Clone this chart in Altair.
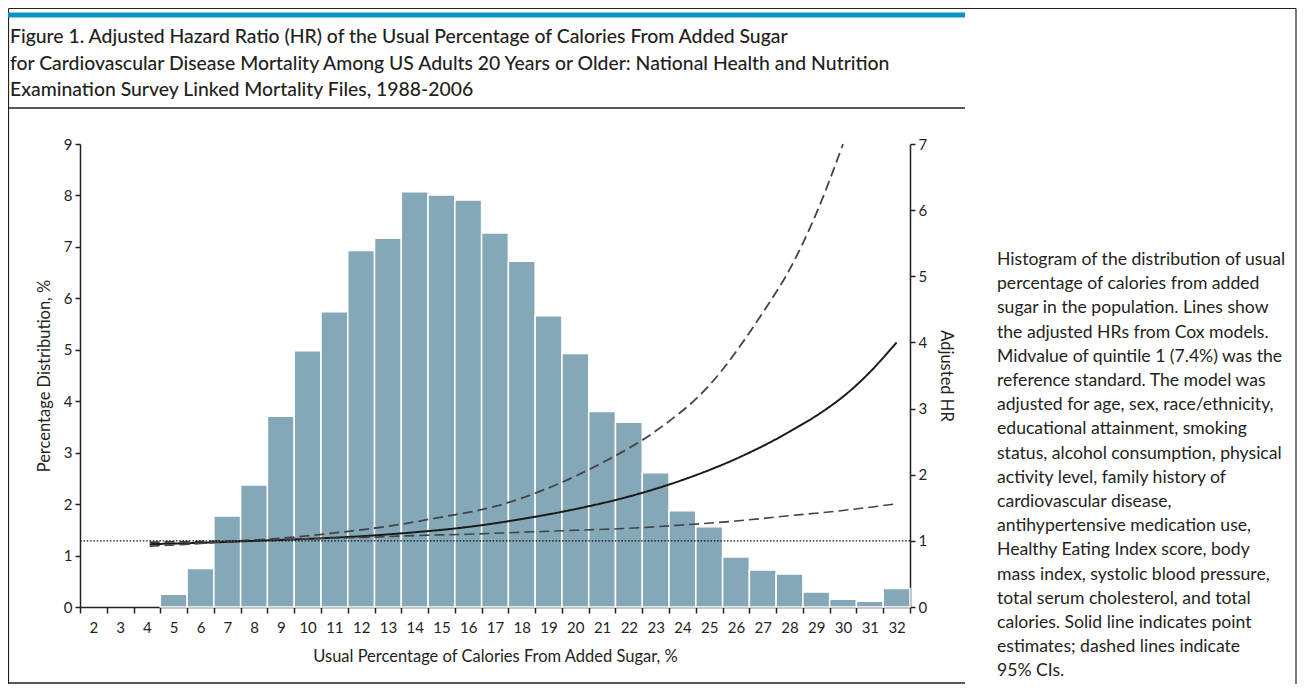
import altair as alt
import pandas as pd

# ---------------- data ----------------
bin_pct = list(range(5, 33))
dist_pct = [0.25, 0.75, 1.77, 2.37, 3.71, 4.98, 5.74, 6.93, 7.17, 8.07,
            8.01, 7.91, 7.27, 6.72, 5.66, 4.93, 3.80, 3.59, 2.61, 1.87,
            1.56, 0.97, 0.72, 0.64, 0.29, 0.15, 0.11, 0.36]

est_x = [4.1, 6, 8, 10, 12, 14, 16, 18, 20, 22, 24, 26, 28, 29.4, 30, 31, 32]
est_hr = [0.95, 0.97, 1.0, 1.03, 1.07, 1.13, 1.21, 1.33, 1.48, 1.67, 1.92,
          2.24, 2.65, 3.0, 3.18, 3.55, 4.0]

hi_x = [4.1, 6, 7.4, 9, 11, 13, 15, 17, 19, 21, 23, 25, 27, 28, 29, 30]
hi_hr = [0.98, 0.99, 1.0, 1.04, 1.12, 1.22, 1.36, 1.52, 1.8, 2.18, 2.66,
         3.35, 4.45, 5.1, 5.95, 7.0]

lo_x = [4.1, 6, 7.4, 10, 12, 14, 16, 18, 20, 22, 24, 26, 28, 30, 32]
lo_hr = [0.92, 0.96, 1.0, 1.03, 1.05, 1.08, 1.1, 1.13, 1.16, 1.19, 1.24,
         1.3, 1.38, 1.46, 1.56]

ref_hr = [1.0]

tick_labels = list(range(2, 33))
tick_edges = [v - 0.5 for v in tick_labels] + [tick_labels[-1] + 0.5]

title_lines = [
    "Figure 1. Adjusted Hazard Ratio (HR) of the Usual Percentage of Calories From Added Sugar",
    "for Cardiovascular Disease Mortality Among US Adults 20 Years or Older: National Health and Nutrition",
    "Examination Survey Linked Mortality Files, 1988-2006",
]

caption_lines = [
    "Histogram of the distribution of usual",
    "percentage of calories from added",
    "sugar in the population. Lines show",
    "the adjusted HRs from Cox models.",
    "Midvalue of quintile 1 (7.4%) was the",
    "reference standard. The model was",
    "adjusted for age, sex, race/ethnicity,",
    "educational attainment, smoking",
    "status, alcohol consumption, physical",
    "activity level, family history of",
    "cardiovascular disease,",
    "antihypertensive medication use,",
    "Healthy Eating Index score, body",
    "mass index, systolic blood pressure,",
    "total serum cholesterol, and total",
    "calories. Solid line indicates point",
    "estimates; dashed lines indicate",
    "95% CIs.",
]

# ---------------- styling ----------------
FONT = "Lato"
INK = "#231f20"
BAR = "#85a8b8"

hist_df = pd.DataFrame({"pct": bin_pct, "dist": dist_pct})
lines_df = pd.concat([
    pd.DataFrame({"x": est_x, "hr": est_hr, "series": "est"}),
    pd.DataFrame({"x": hi_x, "hr": hi_hr, "series": "hi"}),
    pd.DataFrame({"x": lo_x, "hr": lo_hr, "series": "lo"}),
], ignore_index=True)
ref_df = pd.DataFrame({"hr": ref_hr})

x_scale = alt.Scale(domain=[1.5, 32.5], nice=False, zero=False)
x_axis = alt.Axis(
    values=sorted(tick_labels + tick_edges),
    labelExpr="datum.value % 1 === 0 ? toString(datum.value) : ''",
    tickOpacity={"condition": {"test": "datum.value % 1 === 0", "value": 0}, "value": 1},
    title="Usual Percentage of Calories From Added Sugar, %",
    grid=False, labelOverlap=False, labelFlush=False, labelBound=False,
    tickSize=6, labelPadding=7, titlePadding=13,
)

left_axis = alt.Axis(values=list(range(0, 10)), title="Percentage Distribution, %",
                     orient="left", grid=False, tickSize=5, labelPadding=3,
                     titlePadding=11)
right_axis = alt.Axis(values=list(range(0, 8)), title="Adjusted HR",
                      orient="right", grid=False, tickSize=5, labelPadding=3,
                      titlePadding=11)

bars = alt.Chart(hist_df).transform_calculate(
    x0="datum.pct - 0.5", x1="datum.pct + 0.5"
).mark_rect(color=BAR, stroke="white", strokeWidth=1.5).encode(
    x=alt.X("x0:Q", scale=x_scale, axis=x_axis),
    x2="x1:Q",
    y=alt.Y("dist:Q", scale=alt.Scale(domain=[0, 9], nice=False), axis=left_axis),
)

hr_scale = alt.Scale(domain=[0, 7], nice=False)

lines = alt.Chart(lines_df).mark_line(interpolate="monotone").encode(
    x=alt.X("x:Q", scale=x_scale, axis=x_axis),
    y=alt.Y("hr:Q", scale=hr_scale, axis=right_axis),
    detail="series:N",
    color=alt.Color("series:N", scale=alt.Scale(domain=["est", "hi", "lo"],
                    range=["#1a1a1a", "#444444", "#444444"]), legend=None),
    strokeDash=alt.StrokeDash("series:N", scale=alt.Scale(domain=["est", "hi", "lo"],
                              range=[[1, 0], [10, 5], [10, 5]]), legend=None),
    strokeWidth=alt.StrokeWidth("series:N", scale=alt.Scale(domain=["est", "hi", "lo"],
                                range=[2.0, 1.6, 1.6]), legend=None),
)

ref = alt.Chart(ref_df).mark_rule(color="#111", strokeDash=[1.5, 1.8], strokeWidth=1.4).encode(
    y=alt.Y("hr:Q", scale=hr_scale, axis=right_axis),
)

one = pd.DataFrame({"a": [0]})

def hrule(y, x0, x1, color, width):
    return alt.Chart(one).mark_rule(color=color, strokeWidth=width).encode(
        x=alt.value(x0), x2=alt.value(x1), y=alt.value(y))

def vrule(x, y0, y1, color, width):
    return alt.Chart(one).mark_rule(color=color, strokeWidth=width).encode(
        x=alt.value(x), y=alt.value(y0), y2=alt.value(y1))

deco = [
    hrule(-135.5, -71.5, 1216, "#222", 1.2),
    vrule(-71.5, -135.5, 540, "#222", 1.2),
    vrule(1216, -135.5, 540, "#222", 1.2),
    hrule(-129, -72, 885, "#0a92c2", 5),
    hrule(-36, -72, 885, "#222", 1.6),
    hrule(539, -72, 885, "#222", 1.6),
]

title_df = pd.DataFrame({"t": ["\n".join(title_lines)]})
title_txt = alt.Chart(title_df).mark_text(
    align="left", baseline="alphabetic", lineBreak="\n", lineHeight=26.5,
    font=FONT, fontSize=19.4, color=INK, fontWeight=500,
).encode(x=alt.value(-70), y=alt.value(-101), text="t:N")

cap_df = pd.DataFrame({"t": ["\n".join(caption_lines)]})
cap_txt = alt.Chart(cap_df).mark_text(
    align="left", baseline="alphabetic", lineBreak="\n", lineHeight=24.2,
    font=FONT, fontSize=17.6, color=INK,
).encode(x=alt.value(917), y=alt.value(121), text="t:N")

chart = alt.layer(
    bars, alt.layer(lines, ref), *deco, title_txt, cap_txt
).resolve_scale(y="independent").properties(
    width=830, height=463,
    autosize=alt.AutoSizeParams(type="none"),
    padding={"left": 72, "top": 136, "right": 387, "bottom": 77},
).configure_view(stroke=None).configure_axis(
    labelFont=FONT, titleFont=FONT, labelFontSize=15, titleFontSize=16.5,
    labelColor=INK, titleColor=INK, titleFontWeight="normal",
    domainColor="#222", tickColor="#222", domainWidth=1.5, tickWidth=1.5,
)

chart.save("out.html", embed_options={"renderer": "svg", "actions": False})
